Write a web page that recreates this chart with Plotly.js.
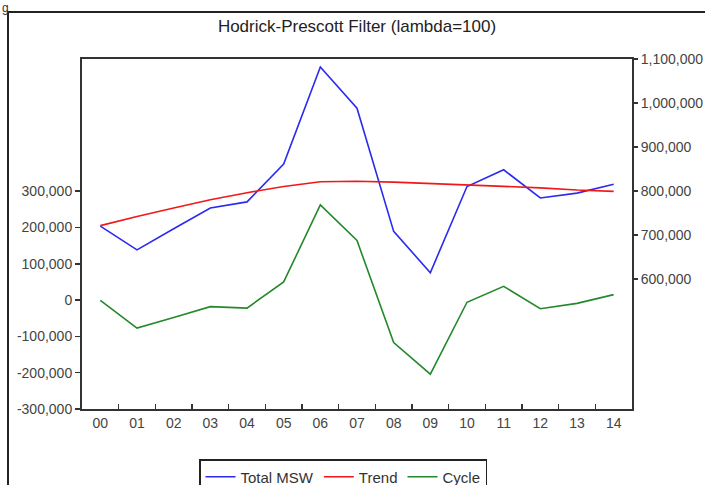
<!DOCTYPE html>
<html>
<head>
<meta charset="utf-8">
<script src="https://cdn.plot.ly/plotly-3.0.1.min.js"></script>
<style>html,body{margin:0;padding:0;background:#fff;}#chart{width:705px;height:485px;}</style>
</head>
<body>
<div id="chart"></div>
<script>
// Years (tick labels on the category axis)
const years = ["00","01","02","03","04","05","06","07","08","09","10","11","12","13","14"];
// Series
const totalMSW = [720000, 666000, 714000, 761000, 775000, 861000, 1082000, 988000, 708000, 614000, 810000, 848000, 784000, 795000, 815000];
const trend    = [721000, 742000, 761000, 780000, 796000, 810000, 821000, 822000, 820000, 817000, 814000, 811000, 807000, 802000, 799000];
const cycle    = [-1000, -77000, -48000, -18000, -22000, 50000, 262000, 164000, -117000, -204000, -6000, 38000, -24000, -9000, 15000];
// Axis ticks
const leftTickVals  = [-300000, -200000, -100000, 0, 100000, 200000, 300000];
const leftTickText  = ["-300,000", "-200,000", "-100,000", "0", "100,000", "200,000", "300,000"];
const rightTickVals = [600000, 700000, 800000, 900000, 1000000, 1100000];
const rightTickText = ["600,000", "700,000", "800,000", "900,000", "1,000,000", "1,100,000"];

const FAM = "Liberation Sans, Arial, sans-serif";
const axisCol = "#333";
const tickCol = "#444";

const traces = [
  {x: years, y: totalMSW, name: "Total MSW", type: "scatter", mode: "lines", yaxis: "y2",
   line: {color: "#2a2af0", width: 1.6}},
  {x: years, y: trend, name: "Trend", type: "scatter", mode: "lines", yaxis: "y2",
   line: {color: "#f01818", width: 1.6}},
  {x: years, y: cycle, name: "Cycle", type: "scatter", mode: "lines", yaxis: "y",
   line: {color: "#23892a", width: 1.6}}
];

const layout = {
  width: 705, height: 485,
  margin: {l: 82, r: 73, t: 59, b: 76, autoexpand: false},
  paper_bgcolor: "#fff", plot_bgcolor: "#fff",
  font: {family: FAM, size: 14, color: tickCol},
  showlegend: true,
  title: {text: "Hodrick-Prescott Filter (lambda=100)", x: 0.5, xref: "paper", xanchor: "center",
          y: 1 - 26/485, yref: "container", yanchor: "middle",
          font: {family: FAM, size: 17, color: "#222"}},
  xaxis: {type: "category", tickson: "boundaries", ticks: "inside", ticklen: 5, tickwidth: 1.5, tickcolor: axisCol,
          showline: true, linecolor: axisCol, linewidth: 2, mirror: true, showgrid: false, zeroline: false,
          tickfont: {family: FAM, size: 14, color: tickCol}, range: [-0.5, 14.5]},
  yaxis: {range: [-300000, 664000], tickvals: leftTickVals, ticktext: leftTickText,
          ticks: "outside", ticklen: 5, tickwidth: 1.5, tickcolor: axisCol,
          showline: true, linecolor: axisCol, linewidth: 2, showgrid: false, zeroline: false,
          tickfont: {family: FAM, size: 14, color: tickCol}},
  yaxis2: {range: [304000, 1100000], tickvals: rightTickVals, ticktext: rightTickText, overlaying: "y", side: "right",
           ticks: "outside", ticklen: 4, tickwidth: 1.5, tickcolor: axisCol,
           showline: true, linecolor: axisCol, linewidth: 2, showgrid: false, zeroline: false,
           tickfont: {family: FAM, size: 14, color: tickCol}},
  legend: {orientation: "h", x: (343-82)/550, xanchor: "center", y: -(459-409)/350, yanchor: "top",
           bordercolor: "#222", borderwidth: 1.5, bgcolor: "#fff",
           font: {family: FAM, size: 15, color: "#333"}},
  annotations: [
    {text: "g", xref: "paper", yref: "paper", x: (1-82)/550, y: (409-0)/350, xanchor: "left", yanchor: "top",
     showarrow: false, borderpad: 0, font: {family: FAM, size: 12, color: "#333"}}
  ],
  shapes: [
    {type: "rect", xref: "paper", yref: "paper", x0: (8-82)/550, x1: (712-82)/550,
     y0: -(495-409)/350, y1: (409-12)/350, line: {color: "#222", width: 2}, fillcolor: "rgba(0,0,0,0)", layer: "below"}
  ]
};

Plotly.newPlot("chart", traces, layout, {displayModeBar: false, staticPlot: true});
</script>
</body>
</html>
